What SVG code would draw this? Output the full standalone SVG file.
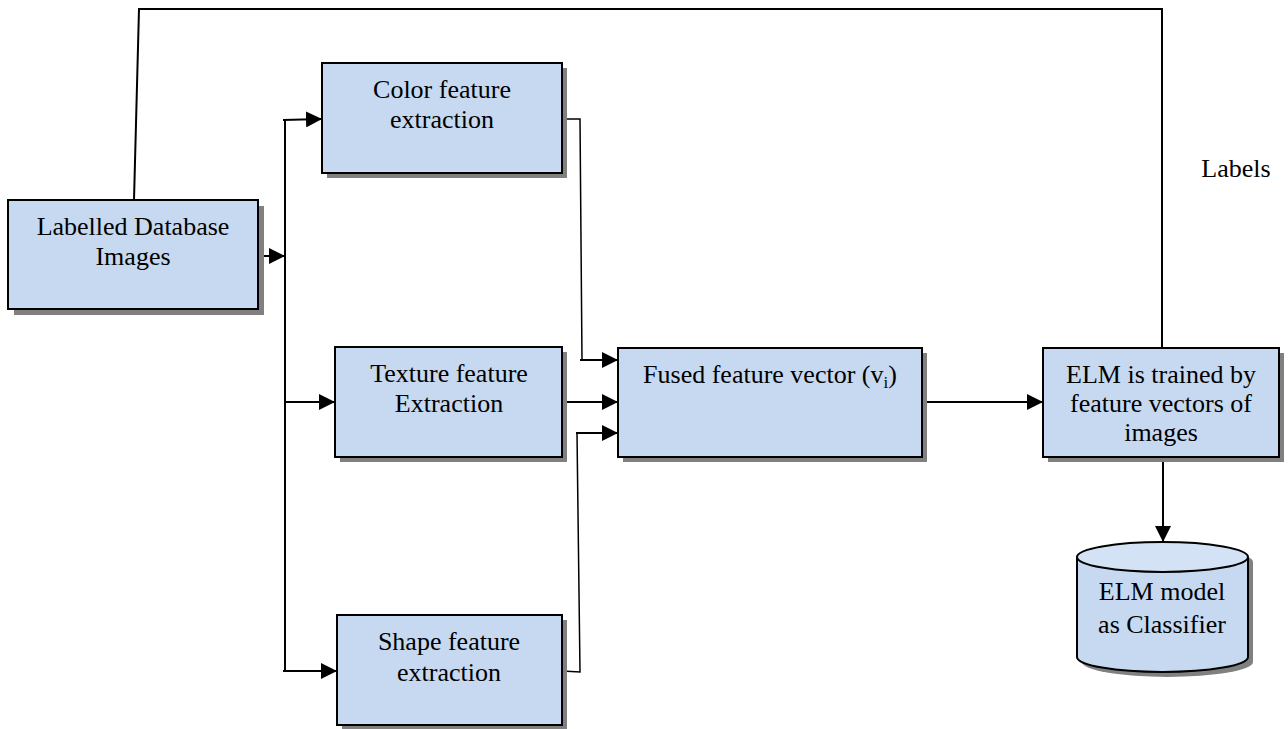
<svg xmlns="http://www.w3.org/2000/svg" width="1288" height="729" viewBox="0 0 1288 729">
<style>
.box{fill:#C6D9F0;stroke:#000;stroke-width:2}
.sh{fill:#808080}
.t{font-family:"Liberation Serif","Times New Roman",serif;font-size:26px;fill:#000;text-anchor:middle}
.c{fill:none;stroke:#000;stroke-width:2}
.thin{fill:none;stroke:#000;stroke-width:1.5}
</style>
<defs>
<marker id="ah" markerUnits="userSpaceOnUse" markerWidth="16" markerHeight="16" viewBox="0 0 16 16" refX="16" refY="8" orient="auto">
<path d="M0,0 L16,8 L0,16 Z" fill="#000"/>
</marker>
</defs>
<rect width="1288" height="729" fill="#fff"/>

<g id="connectors">
<polyline class="c" points="134,200 139,9 1162,9 1162,348"/>
<line class="c" x1="258" y1="256" x2="285" y2="256" marker-end="url(#ah)"/>
<line class="c" x1="285" y1="119" x2="285" y2="672"/>
<line class="c" x1="283" y1="120" x2="322" y2="119" marker-end="url(#ah)"/>
<line class="c" x1="285" y1="402" x2="335" y2="402" marker-end="url(#ah)"/>
<line class="c" x1="283" y1="671" x2="337" y2="671" marker-end="url(#ah)"/>
<polyline class="thin" points="562,119 580,119 582,360"/>
<line class="c" x1="580" y1="360" x2="618" y2="360" marker-end="url(#ah)"/>
<line class="c" x1="562" y1="402" x2="618" y2="402" marker-end="url(#ah)"/>
<polyline class="thin" points="562,671 580,672 577,433"/>
<line class="c" x1="576" y1="433" x2="618" y2="433" marker-end="url(#ah)"/>
<line class="c" x1="922" y1="402" x2="1043" y2="402" marker-end="url(#ah)"/>
<line class="c" x1="1163" y1="457" x2="1163" y2="542" marker-end="url(#ah)"/>
<text class="t" x="1236" y="177">Labels</text>
</g>

<g id="labelled">
<rect class="sh" x="14" y="206" width="250" height="109"/>
<rect class="box" x="8" y="200" width="250" height="109"/>
<text class="t" x="133" y="235">Labelled Database</text>
<text class="t" x="133" y="265">Images</text>
</g>

<g id="color">
<rect class="sh" x="327" y="68" width="240" height="110"/>
<rect class="box" x="322" y="63" width="240" height="110"/>
<text class="t" x="442" y="98">Color feature</text>
<text class="t" x="442" y="128">extraction</text>
</g>

<g id="texture">
<rect class="sh" x="340" y="352" width="227" height="110"/>
<rect class="box" x="335" y="347" width="227" height="110"/>
<text class="t" x="449" y="382">Texture feature</text>
<text class="t" x="449" y="412">Extraction</text>
</g>

<g id="shape">
<rect class="sh" x="342" y="620" width="225" height="110"/>
<rect class="box" x="337" y="615" width="225" height="110"/>
<text class="t" x="449" y="650">Shape feature</text>
<text class="t" x="449" y="681">extraction</text>
</g>

<g id="fused">
<rect class="sh" x="623" y="353" width="304" height="109"/>
<rect class="box" x="618" y="348" width="304" height="109"/>
<text class="t" x="770" y="383">Fused feature vector (v<tspan font-size="17" dy="5">i</tspan><tspan dy="-5">)</tspan></text>
</g>

<g id="elm">
<rect class="sh" x="1048" y="353" width="236" height="109"/>
<rect class="box" x="1043" y="348" width="236" height="109"/>
<text class="t" x="1161" y="383">ELM is trained by</text>
<text class="t" x="1161" y="412">feature vectors of</text>
<text class="t" x="1161" y="441">images</text>
</g>

<g id="classifier">
<path class="sh" d="M1082,562 A85.5,15 0 0 1 1253,562 L1253,662 A85.5,15 0 0 1 1082,662 Z"/>
<path class="box" d="M1077,557 L1077,657 A85.5,15 0 0 0 1248,657 L1248,557"/>
<ellipse cx="1162.5" cy="557" rx="85.5" ry="15" fill="#D3E2F4" stroke="#000" stroke-width="2"/>
<text class="t" x="1162" y="600">ELM model</text>
<text class="t" x="1162" y="633">as Classifier</text>
</g>
</svg>
